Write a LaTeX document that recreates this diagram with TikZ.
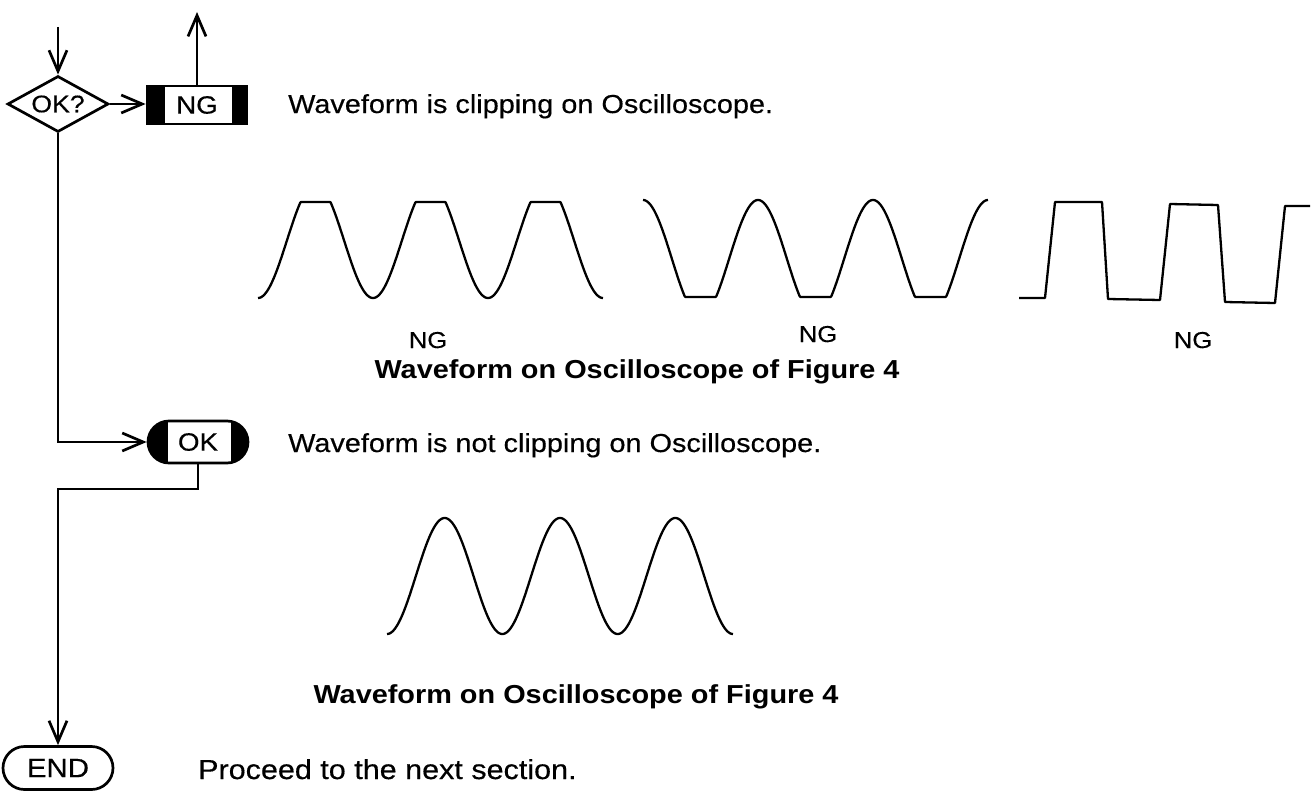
\documentclass[tikz,border=0pt]{standalone}
\usepackage{fontspec}
\setmainfont{Liberation Sans}[FakeStretch=1.11, UprightFeatures={FakeBold=0.4}]
\usetikzlibrary{arrows.meta,shapes.geometric,shapes.misc}
\begin{document}
\begin{tikzpicture}[x=1pt,y=-1pt,
  every node/.style={font=\fontsize{26}{30}\selectfont, inner sep=0pt},
  ln/.style={line width=2.7pt},
  arr/.style={ln, -{Straight Barb[length=21pt,width=18pt,line width=2.7pt]}},
  wave/.style={line width=2.3pt, line join=round},
  boxfont/.style={font=\fontsize{25}{29}\selectfont},
  dia/.style={draw, ln, diamond, aspect=1.87, minimum width=101pt, minimum height=56pt, font=\fontsize{24}{28}\selectfont},
  ngbox/.style={draw, ln, rectangle, minimum width=100pt, minimum height=38pt, boxfont,
    path picture={\fill (path picture bounding box.south west) rectangle ([xshift=18pt]path picture bounding box.north west);
                  \fill (path picture bounding box.south east) rectangle ([xshift=-15pt]path picture bounding box.north east);}},
  okbox/.style={draw, ln, rounded rectangle, fill=black, minimum width=100pt, minimum height=42pt, boxfont,
    path picture={\filldraw[fill=white,draw=black,line width=2.7pt] ([xshift=19pt]path picture bounding box.south west) rectangle ([xshift=-16pt]path picture bounding box.north east);}},
  endbox/.style={draw, ln, rounded rectangle, minimum width=110pt, minimum height=43pt, font=\fontsize{26.5}{30}\selectfont},
  lbl/.style={anchor=base west},
  ngl/.style={anchor=base, font=\fontsize{23}{27}\selectfont},
  bold/.style={anchor=base, font=\fontsize{26}{30}\selectfont\bfseries}]
\useasboundingbox[fill=white] (0,0) rectangle (1311,792);

% flow chart
\node[dia] (q) at (58,104) {OK?};
\coordinate (qin) at (58,27);
\draw[arr] (qin) -- (q.north);
\node[ngbox] (ng) at (197,105) {NG};
\draw[arr] (q.east) -- (q.east -| ng.west);
\coordinate (ngout) at (197,12);
\draw[arr] (ng.north) -- (ngout);
\node[okbox] (ok) at (198,442) {OK};
\draw[arr] (q.south) |- (ok.west);
\node[endbox] (endn) at (58,768) {END};
\coordinate (turn) at (58,489);
\draw[arr] (ok.south) |- (turn) -- (endn.north);

% texts
\node[lbl] (t1) at (288,113) {Waveform is clipping on Oscilloscope.};
\node[lbl] (t2) at (288,452) {Waveform is not clipping on Oscilloscope.};
\node[lbl, font=\fontsize{27.5}{31}\selectfont] (t3) at (198,779) {Proceed to the next section.};
\node[ngl] (n1) at (428,348) {NG};
\node[ngl] (n2) at (818,342) {NG};
\node[ngl] (n3) at (1193,348) {NG};
\node[bold] (c1) at (637,378) {Waveform on Oscilloscope of Figure 4};
\node[bold] (c2) at (576,703) {Waveform on Oscilloscope of Figure 4};

% waveforms
\draw[wave] plot[domain=258:603, samples=400] (\x, {max(241+57*cos((\x-258)*3.13043), 202)});
\draw[wave] plot[domain=643:988, samples=400] (\x, {min(258.4-58.4*cos((\x-643)*3.13043), 297)});
\draw[wave] (1019,298) -- (1045,298) -- (1055,202) -- (1102,202) -- (1108,299) -- (1160,300)
  -- (1170,204) -- (1218,205) -- (1225,302) -- (1275,303) -- (1285,206) -- (1310,206);
\draw[wave] plot[domain=387:733, samples=400] (\x, {576+58*cos((\x-387)*3.12142)});
\end{tikzpicture}
\end{document}
